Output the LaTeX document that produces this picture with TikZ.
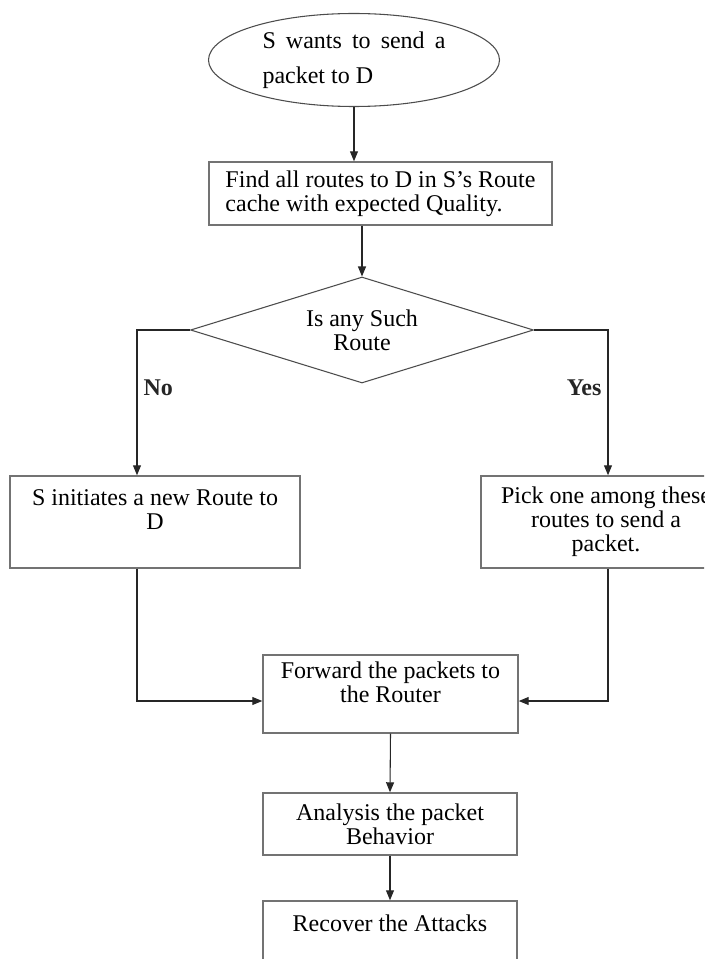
\documentclass[tikz,border=0pt]{standalone}
\usepackage{fontspec}
\setmainfont{Liberation Serif}
\usetikzlibrary{arrows.meta, shapes.geometric}

\begin{document}
\begin{tikzpicture}[x=0.75pt,y=-0.75pt,>={Triangle[length=7.5pt,width=6pt]},
		every node/.style={font=\fontsize{18}{18}\selectfont}]
		\tikzstyle{block}=[draw=black!55,line width=1.1pt,align=center,inner sep=0pt]
		\tikzstyle{decision}=[diamond,aspect=3.2,draw=black!70,line width=0.8pt,align=center,inner sep=0pt]
		\tikzstyle{answer}=[font=\bfseries\fontsize{18}{18}\selectfont,inner sep=0pt]
		\tikzstyle{flow}=[->,black!85,line width=0.8pt]

		\useasboundingbox (0,0) rectangle (704,959);
		\clip (0,0) rectangle (704,959);

		\node[ellipse,draw=black!70,line width=0.8pt,inner sep=0pt,minimum width=218.25pt,minimum height=69.75pt,align=left] (start) at (354,60)
			{\makebox[137.25pt][s]{S wants to send a}\\[8.25pt]packet to D};
		\node[block,minimum width=257.25pt,minimum height=47.25pt,align=left] (find) at (380.5,193.5)
			{Find all routes to D in S's Route\\cache with expected Quality.};
		\node[decision,minimum width=257.25pt,minimum height=79.5pt] (dec) at (362,330) {Is any Such\\Route};
		\node[block,minimum width=217.5pt,minimum height=69pt] (init) at (155,522) {S initiates a new Route to\\D\\~};
		\node[block,minimum width=187.5pt,minimum height=69pt] (pick) at (606,522) {Pick one among these\\routes to send a\\packet.};
		\node[block,minimum width=191.25pt,minimum height=58.5pt] (fwd) at (390.5,694) {Forward the packets to\\the Router\\~};
		\node[block,minimum width=190.5pt,minimum height=46.5pt] (ana) at (390,824) {Analysis the packet\\ Behavior};
		\node[block,minimum width=190.5pt,minimum height=69pt] (rec) at (390,947) {Recover the Attacks\\~\\~};

		\draw[flow] (start.south) -- (start.south |- find.north);
		\draw[flow] (find.south -| dec.north) -- (dec.north);
		\draw[flow] (dec.west) -| node[answer,pos=0.7,right=4.5pt] {No} ([xshift=-13.5pt]init.north);
		\draw[flow] (dec.east) -| node[answer,pos=0.7,left=4.5pt] {Yes} ([xshift=1.5pt]pick.north);
		\draw[flow] ([xshift=-13.5pt]init.south) |- ([yshift=-5.25pt]fwd.west);
		\draw[flow] ([xshift=1.5pt]pick.south) |- ([yshift=-5.25pt]fwd.east);
		\draw[flow] (fwd.south) -- (ana.north);
		\draw[flow] (ana.south) -- (rec.north);
\end{tikzpicture}
\end{document}
